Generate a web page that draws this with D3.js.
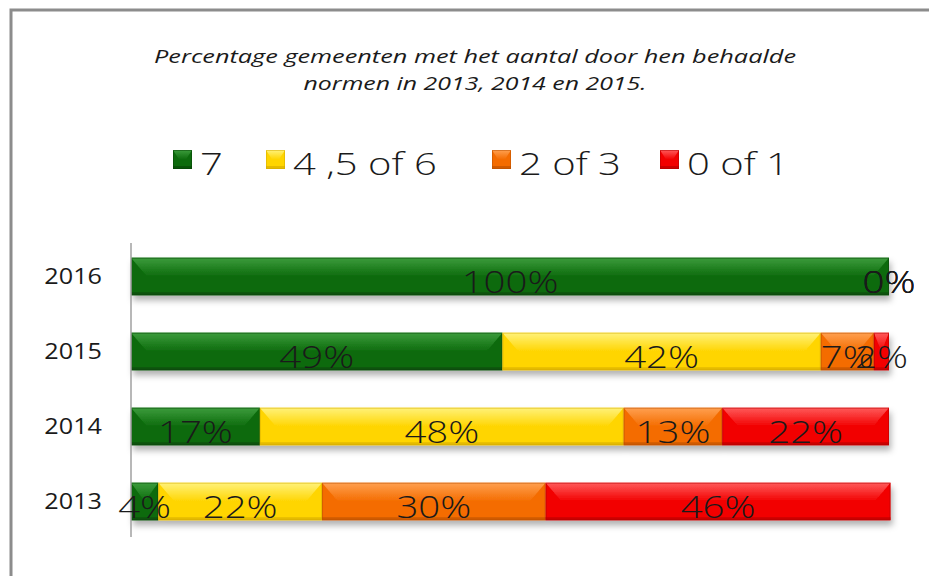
<!DOCTYPE html>
<html>
<head>
<meta charset="utf-8">
<script src="https://cdn.jsdelivr.net/npm/d3@7"></script>
<style>
  body { margin: 0; background: #fff; }
  text { font-family: "Open Sans", "Liberation Sans", sans-serif; fill: #1a1a1a; }
</style>
</head>
<body>
<div id="chart"></div>
<script>
// chart data
var years = ["2016", "2015", "2014", "2013"];
var seriesNames = ["7", "4 ,5 of 6", "2 of 3", "0 of 1"];
var norm7 = [100, 49, 17, 3.6];
var norm456 = [0, 42, 48, 21.6];
var norm23 = [0, 7, 13, 29.5];
var norm01 = [0, 2, 22, 45.5];
var titleLines = ["Percentage gemeenten met het aantal door hen behaalde",
                  "normen in 2013, 2014 en 2015."];

function loadBars(){
  var width = 929,
      height = 576,
      sx = 1.2; // text in the picture is stretched sideways

  var colors = [
    {base: "#0d6b0d", light: "#3c9c3c", dark: "#064206"},
    {base: "#ffd500", light: "#fff27a", dark: "#d4aa00"},
    {base: "#f46c00", light: "#ffa050", dark: "#b84f00"},
    {base: "#f20000", light: "#ff5a5a", dark: "#b00000"}
  ];
  var series = [norm7, norm456, norm23, norm01];

  var svg = d3.select("#chart").append("svg")
    .attr("width", width)
    .attr("height", height);

  var defs = svg.append("defs");
  defs.append("filter").attr("id", "shadow")
    .attr("x", "-5%").attr("y", "-30%").attr("width", "110%").attr("height", "180%")
    .append("feDropShadow")
    .attr("dx", 2).attr("dy", 5).attr("stdDeviation", 3)
    .attr("flood-color", "#000").attr("flood-opacity", 0.3);

  // top shine for each colour
  colors.forEach(function(c, i) {
    var grad = defs.append("linearGradient").attr("id", "shine" + i)
      .attr("x1", 0).attr("y1", 0).attr("x2", 0).attr("y2", 1);
    grad.append("stop").attr("offset", "0%").attr("stop-color", c.light);
    grad.append("stop").attr("offset", "100%").attr("stop-color", c.base);
  });

  // outer frame (only left and top visible)
  svg.append("rect")
    .attr("x", 11).attr("y", 10)
    .attr("width", 1000).attr("height", 1000)
    .attr("fill", "none").attr("stroke", "#8c8c8c").attr("stroke-width", 3);

  // title
  svg.append("g").selectAll("text")
    .data(titleLines)
    .enter().append("text")
    .attr("x", 475)
    .attr("y", function(d, i) { return 63 + i * 27; })
    .attr("text-anchor", "middle")
    .attr("font-style", "italic")
    .attr("font-size", "18px")
    .attr("fill", "#111")
    .attr("textLength", function(d, i) { return i == 0 ? 642 : 343; })
    .attr("lengthAdjust", "spacingAndGlyphs")
    .text(function(d) { return d; });

  // legend
  var legendX = [173, 266, 492, 660];
  var legend = svg.append("g").selectAll("g")
    .data(seriesNames)
    .enter().append("g")
    .attr("transform", function(d, i) { return "translate(" + legendX[i] + ",150)"; });
  legend.each(function(d, i) {
    bevel(d3.select(this), 0, 19, 0, 19, colors[i], i, 6);
  });
  legend.append("text")
    .attr("transform", "translate(27,25) scale(1.25,1)")
    .attr("font-size", "32px")
    .attr("font-weight", 300)
    .attr("fill", "#000")
    .text(function(d) { return d; });

  // scales
  var x = d3.scaleLinear().domain([0, 100]).range([131, 889]);
  var y = d3.scaleBand().domain(years).range([239, 539])
    .paddingInner(0.5).paddingOuter(0.25);

  // stacked rows
  var rows = years.map(function(yr, j) {
    var acc = 0;
    return series.map(function(s, i) {
      var seg = {year: yr, series: i, value: s[j], start: acc, end: acc + s[j]};
      acc += s[j];
      return seg;
    });
  });

  var rowG = svg.append("g").selectAll("g")
    .data(rows)
    .enter().append("g")
    .attr("filter", "url(#shadow)");
  rowG.each(function(row) {
    var g = d3.select(this);
    row.forEach(function(seg) {
      if (seg.value <= 0) return;
      var y0 = y(seg.year);
      bevel(g, x(seg.start), x(seg.end), y0, y0 + y.bandwidth(), colors[seg.series], seg.series, 16);
    });
  });

  // axis line and year labels
  var axis = svg.append("g")
    .attr("transform", "translate(131,0)")
    .call(d3.axisLeft(y).tickSize(0).tickPadding(29));
  axis.select(".domain").attr("stroke", "#a0a0a0").attr("stroke-width", 1.5)
    .attr("d", "M0,243V537");
  axis.selectAll(".tick text")
    .attr("font-family", "Open Sans, sans-serif")
    .attr("font-size", "21px")
    .attr("fill", "#1a1a1a")
    .attr("dy", "0.38em")
    .attr("transform", "scale(" + sx + ",1)")
    .attr("x", -29 / sx);

  // data labels
  var segs = [].concat.apply([], rows);
  svg.append("g").selectAll("text")
    .data(segs)
    .enter().append("text")
    .attr("transform", function(d) {
      var cx = (x(d.start) + x(d.end)) / 2;
      var cy = y(d.year) + y.bandwidth() / 2 + 16;
      return "translate(" + cx + "," + cy + ") scale(" + sx + ",1)";
    })
    .attr("text-anchor", "middle")
    .attr("font-size", "32px")
    .attr("font-weight", 300)
    .attr("fill", "#000")
    .text(function(d) { return Math.round(d.value) + "%"; });
}

// bar piece: base colour, light upper half cut diagonally at both ends, dark bottom edge
function bevel(g, x0, x1, y0, y1, c, idx, bx){
  var h = y1 - y0,
      mid = y0 + h * 0.5;
  bx = Math.min(bx, (x1 - x0) / 2);
  g.append("rect")
    .attr("x", x0).attr("y", y0)
    .attr("width", x1 - x0).attr("height", h)
    .attr("fill", c.base);
  g.append("polygon")
    .attr("points", [[x0, y0], [x1, y0], [x1 - bx, mid], [x0 + bx, mid]].join(" "))
    .attr("fill", "url(#shine" + idx + ")");
  g.append("rect")
    .attr("x", x0).attr("y", y1 - 3)
    .attr("width", x1 - x0).attr("height", 3)
    .attr("fill", c.dark).attr("opacity", 0.6);
  g.append("rect")
    .attr("x", x0 + 0.5).attr("y", y0 + 0.5)
    .attr("width", Math.max(0, x1 - x0 - 1)).attr("height", h - 1)
    .attr("fill", "none").attr("stroke", c.dark).attr("stroke-opacity", 0.5);
}

loadBars();
</script>
</body>
</html>
